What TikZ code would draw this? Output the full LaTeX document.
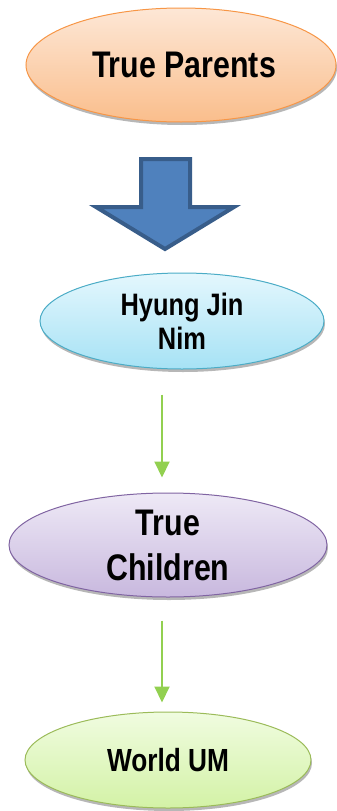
\documentclass[tikz,border=0pt]{standalone}
\usepackage{fontspec}
\setmainfont[FakeStretch=0.82]{Liberation Sans}
\usepackage{xcolor}
\usetikzlibrary{shapes.geometric,shadows,arrows.meta}

\definecolor{orgline}{HTML}{F79646}
\definecolor{orgtop}{HTML}{FDE7D6}
\definecolor{orgbot}{HTML}{FABE8C}
\definecolor{cyaline}{HTML}{4BACC6}
\definecolor{cyatop}{HTML}{E4F7FD}
\definecolor{cyabot}{HTML}{A6E2F5}
\definecolor{purline}{HTML}{8064A2}
\definecolor{purtop}{HTML}{EEE9F6}
\definecolor{purbot}{HTML}{C8B8DE}
\definecolor{grnline}{HTML}{9BBB59}
\definecolor{grntop}{HTML}{F0FCE0}
\definecolor{grnbot}{HTML}{D3F2A6}
\definecolor{bigfill}{HTML}{4F81BD}
\definecolor{bigline}{HTML}{385D8A}
\definecolor{flowgreen}{HTML}{92D050}

\tikzset{
  oval/.style={ellipse, draw, line width=1pt, inner sep=0pt,
    drop shadow={shadow xshift=1pt, shadow yshift=-3pt, fill=gray!80, opacity=0.7}},
  ovaltext/.style={align=center, font=\bfseries},
  flow/.style={draw=flowgreen, line width=2pt, -{Triangle[width=15pt,length=16pt]}}
}

\begin{document}
\begin{tikzpicture}[x=1pt, y=-1pt]
    \useasboundingbox (0, 0) rectangle (337, 811);

    \node[oval, draw=orgline, top color=orgtop, bottom color=orgbot,
          minimum width=310pt, minimum height=114pt] (tp) at (181, 65) {};
    \node[ovaltext, font=\bfseries\fontsize{37}{44}\selectfont] at ([xshift=3pt]tp) {True Parents};

    % big arrow
    \draw[line width=4pt, draw=bigline, fill=bigfill, line join=miter]
        (141, 159) -- (190, 159) -- (190, 207) -- (234, 207) -- (165, 249)
        -- (96, 207) -- (141, 207) -- cycle;

    \node[oval, draw=cyaline, top color=cyatop, bottom color=cyabot,
          minimum width=284pt, minimum height=96pt] (hj) at (182, 321) {};
    \node[ovaltext, font=\bfseries\fontsize{31}{34}\selectfont] at (hj) {Hyung Jin\\Nim};

    \node[oval, draw=purline, top color=purtop, bottom color=purbot,
          minimum width=318pt, minimum height=104pt] (tc) at (168, 545) {};
    \node[ovaltext, font=\bfseries\fontsize{37}{45}\selectfont] at (tc) {True\\Children};

    \node[oval, draw=grnline, top color=grntop, bottom color=grnbot,
          minimum width=286pt, minimum height=96pt] (wu) at (168, 760) {};
    \node[ovaltext, font=\bfseries\fontsize{32}{38}\selectfont] at (wu) {World UM};

    \draw[flow] ([xshift=-20pt, yshift=-25pt]hj.south) -- ([xshift=-6pt, yshift=15pt]tc.north);
    \draw[flow] ([xshift=-6pt, yshift=-23pt]tc.south) -- ([xshift=-6pt, yshift=9pt]wu.north);
\end{tikzpicture}
\end{document}
